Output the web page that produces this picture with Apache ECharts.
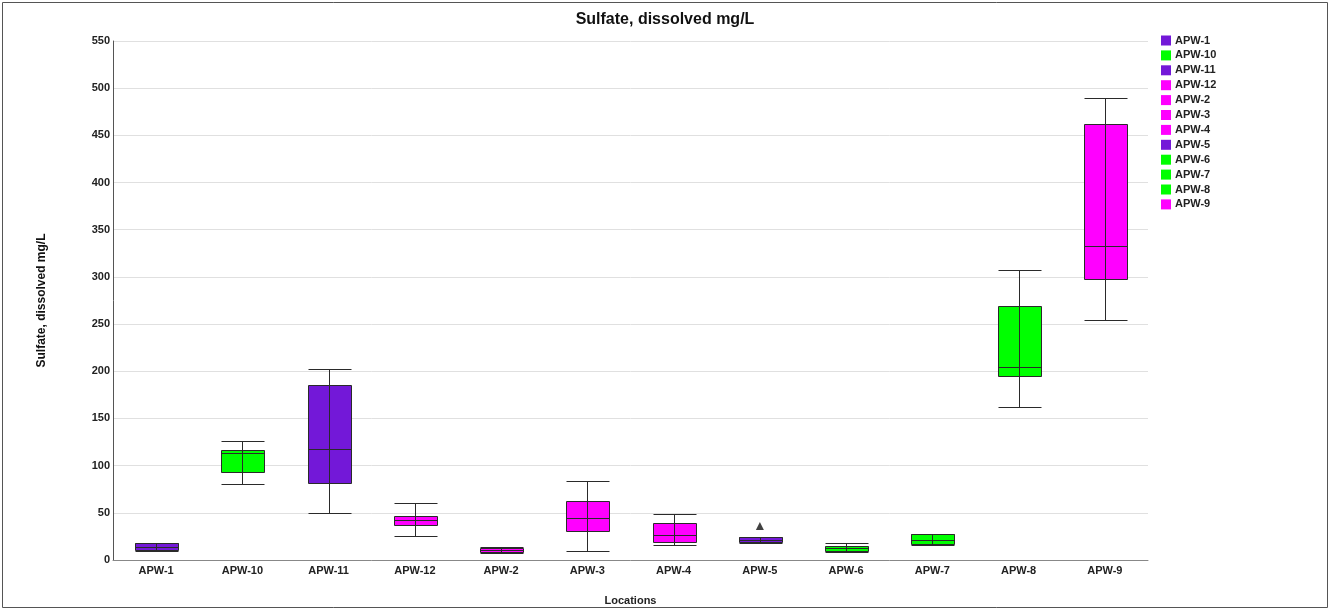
<!DOCTYPE html>
<html>
<head>
<meta charset="utf-8">
<script src="https://cdn.jsdelivr.net/npm/echarts@6/dist/echarts.min.js"></script>
<style>
html,body{margin:0;padding:0;background:#fff;}
#c{width:1330px;height:611px;}
</style>
</head>
<body>
<div id="c"></div>
<script>
// Categories (locations)
const categories = ['APW-1','APW-10','APW-11','APW-12','APW-2','APW-3','APW-4','APW-5','APW-6','APW-7','APW-8','APW-9'];
// Box statistics [min, Q1, median, Q3, max] in mg/L
const boxMin    = [10,  81,  50,  25,  7.5, 10,  16,  18.5, 8.5, 15.5, 162, 254];
const boxQ1     = [10.5,93,  82,  37.5,8,   31,  19.5,19.5, 9.5, 16.5, 195, 298];
const boxMedian = [14,  113, 118, 42,  10.5,45,  26.5,21.5, 12.5,21,   204, 333];
const boxQ3     = [17.5,116.5,185.5,46.5,13.2,62.5,39,  24.4, 15.2,27.6, 269, 462];
const boxMax    = [18,  126, 202, 60,  14,  84,  49,  24.5, 17.5,28,   307, 490];
// Group colour of each location
const colorGroup = ['purple','green','purple','magenta','magenta','magenta','magenta','purple','green','green','green','magenta'];
// Outliers [category, value]
const outliers = [['APW-5', 36]];
// Y axis ticks
const yMin = 0, yMax = 550, yStep = 50;

const palette = {purple:'#7318D8', green:'#00FF00', magenta:'#FF00FF'};

const boxData = categories.map((c,i)=>[i, boxMin[i], boxQ1[i], boxMedian[i], boxQ3[i], boxMax[i]]);

const legendSeries = categories.map((c,i)=>({
  name:c, type:'bar', data:[], color:palette[colorGroup[i]], barWidth:0
}));

const font = 'Liberation Sans, Arial, sans-serif';
const px = v => Math.round(v) + 0.5;
const chart = echarts.init(document.getElementById('c'), null, {renderer:'canvas'});
chart.setOption({
  animation:false,
  backgroundColor:'#fff',
  title:{text:'Sulfate, dissolved mg/L', left:'center', top:7,
    textStyle:{fontFamily:font, fontSize:16, fontWeight:'bold', color:'#111'}},
  legend:{
    orient:'vertical', left:1156, top:30, itemWidth:10, itemHeight:10, itemGap:3.9,
    icon:'rect', data:categories,
    textStyle:{fontFamily:font, fontSize:11, fontWeight:'bold', color:'#222', padding:[0,0,0,-1]},
    selectedMode:false
  },
  grid:{left:113, right:182, top:41, bottom:51},
  xAxis:{
    type:'category', data:categories, boundaryGap:true,
    name:'Locations', nameLocation:'middle', nameGap:35,
    nameTextStyle:{fontFamily:font, fontSize:11, fontWeight:'bold', color:'#222'},
    axisLine:{lineStyle:{color:'#888', width:1}},
    axisTick:{show:false},
    axisLabel:{fontFamily:font, fontSize:11, fontWeight:'bold', color:'#222', margin:5},
    splitLine:{show:false}
  },
  yAxis:{
    type:'value', min:yMin, max:yMax, interval:yStep,
    name:'Sulfate, dissolved mg/L', nameLocation:'middle', nameGap:65, nameRotate:90,
    nameTextStyle:{fontFamily:font, fontSize:12, fontWeight:'bold', color:'#111'},
    axisLine:{show:true, lineStyle:{color:'#555', width:1}},
    axisTick:{show:false},
    axisLabel:{fontFamily:font, fontSize:11, fontWeight:'bold', color:'#222', margin:3},
    splitLine:{lineStyle:{color:'#e0e0e0', width:1}}
  },
  graphic:[{type:'rect', shape:{x:2.5,y:2.5,width:1325,height:605}, style:{fill:'none', stroke:'#555', lineWidth:1}, silent:true}],
  series:[
    ...legendSeries,
    {type:'custom', name:'box', data:boxData, z:5, silent:true,
     renderItem:function(params, api){
       const idx = api.value(0);
       const bw = api.size([1,0])[0] * 0.5;
       const pMin = api.coord([idx, api.value(1)]);
       const pQ1 = api.coord([idx, api.value(2)]);
       const pMed = api.coord([idx, api.value(3)]);
       const pQ3 = api.coord([idx, api.value(4)]);
       const pMax = api.coord([idx, api.value(5)]);
       const cx = px(pMin[0]);
       const x0 = Math.round(cx - bw/2) + 0.5, x1 = Math.round(cx + bw/2) + 0.5;
       const col = palette[colorGroup[idx]];
       const ln = {stroke:'#2a2a2a', lineWidth:1};
       return {type:'group', children:[
         {type:'rect', shape:{x:x0, y:px(pQ3[1]), width:x1-x0, height:Math.max(1, px(pQ1[1])-px(pQ3[1]))},
          style:{fill:col, stroke:'#2a2a2a', lineWidth:1}},
         {type:'line', shape:{x1:x0, y1:px(pMed[1]), x2:x1, y2:px(pMed[1])}, style:ln},
         {type:'line', shape:{x1:cx, y1:px(pMin[1]), x2:cx, y2:px(pMax[1])}, style:ln},
         {type:'line', shape:{x1:x0, y1:px(pMin[1]), x2:x1, y2:px(pMin[1])}, style:ln},
         {type:'line', shape:{x1:x0, y1:px(pMax[1]), x2:x1, y2:px(pMax[1])}, style:ln}
       ]};
     }},
    {type:'scatter', name:'outlier', data:outliers, symbol:'triangle', symbolSize:8,
     itemStyle:{color:'#111'}, z:8}
  ]
});
</script>
</body>
</html>
